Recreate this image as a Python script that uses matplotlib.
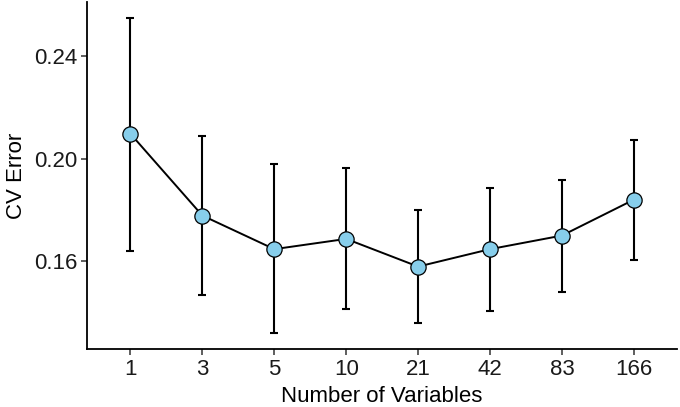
import numpy as np
import matplotlib
matplotlib.use("Agg")
import matplotlib.pyplot as plt

plt.rcParams['font.family'] = ['Liberation Sans', 'DejaVu Sans']

# number of variables (categorical x axis)
n_vars = ["1", "3", "5", "10", "21", "42", "83", "166"]
# mean cv error and error bar limits
cv_error = [0.2097, 0.1778, 0.1647, 0.1687, 0.1579, 0.1647, 0.1700, 0.1840]
err_upper = [0.2550, 0.2090, 0.1978, 0.1964, 0.1799, 0.1885, 0.1917, 0.2074]
err_lower = [0.1641, 0.1469, 0.1318, 0.1412, 0.1360, 0.1404, 0.1480, 0.1604]

x = np.arange(len(n_vars))
y = np.array(cv_error)
yerr = [y - np.array(err_lower), np.array(err_upper) - y]

fig = plt.figure(figsize=(6.8, 4.07), dpi=100)
ax = fig.add_axes([0.1284, 0.1418, 0.8672, 0.8536])

ax.errorbar(x, y, yerr=yerr, fmt='none', ecolor='black', elinewidth=1.5,
            capsize=2.8, capthick=1.5, zorder=1)
ax.plot(x, y, '-', color='black', lw=1.4, zorder=2)
ax.plot(x, y, 'o', ms=11, mfc='#87CEEB', mec='black', mew=0.9, zorder=3)

ax.set_xticks(x)
ax.set_xticklabels(n_vars)
ax.set_xlim(-0.6, len(n_vars) - 1 + 0.6)
lo, hi = min(err_lower), max(err_upper)
pad = (hi - lo) * 0.05
ax.set_ylim(lo - pad, hi + pad)
ax.set_yticks([0.16, 0.20, 0.24])
ax.set_yticklabels(["0.16", "0.20", "0.24"])

for side in ['top', 'right']:
    ax.spines[side].set_visible(False)
for side in ['left', 'bottom']:
    ax.spines[side].set_linewidth(1.3)
    ax.spines[side].set_color('black')

ax.tick_params(axis='both', length=4, width=1.1, color='#333333',
               labelsize=16, labelcolor='#1a1a1a', pad=3)
ax.set_xlabel("Number of Variables", fontsize=16, color='black', labelpad=4)
ax.set_ylabel("CV Error", fontsize=16, color='black', labelpad=5)

fig.savefig("out.png", dpi=100)
